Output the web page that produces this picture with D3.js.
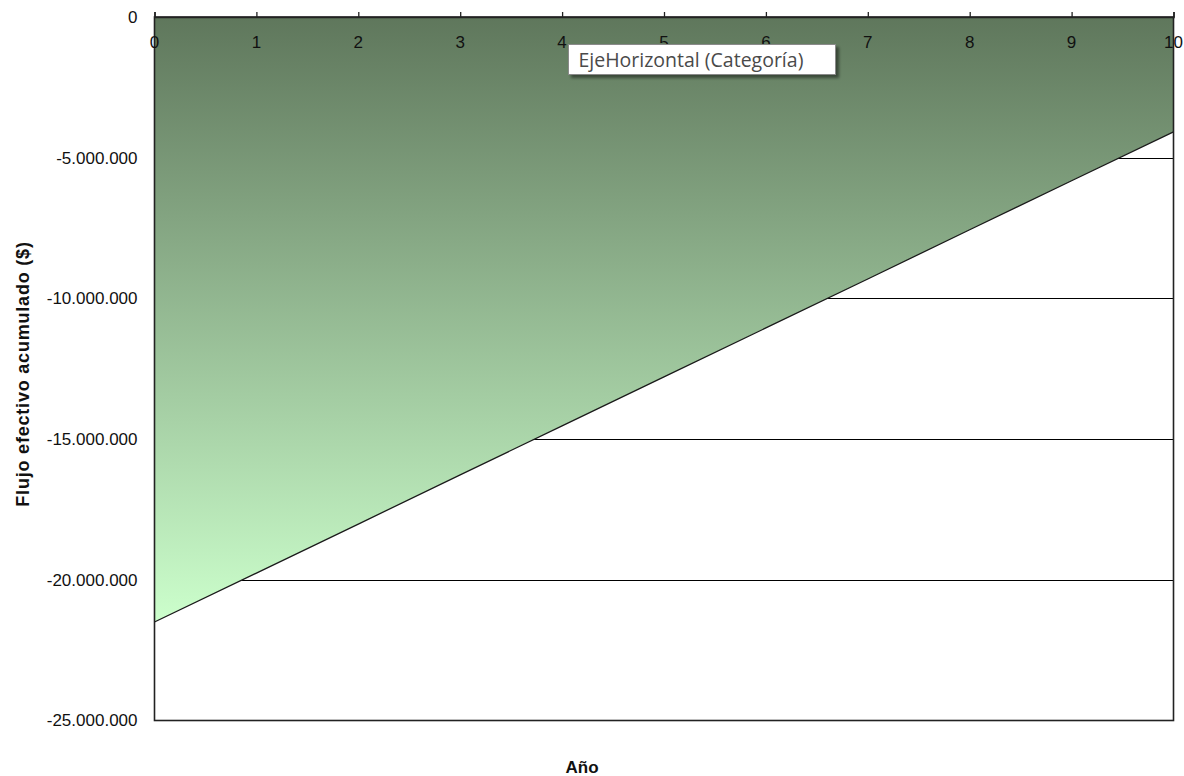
<!DOCTYPE html>
<html><head><meta charset="utf-8">
<script src="https://cdn.jsdelivr.net/npm/d3@7"></script>
<style>body{margin:0;background:#fff}svg{display:block}</style>
</head><body>
<svg id="c" width="1184" height="776"></svg>
<script>
const years = [0,1,2,3,4,5,6,7,8,9,10];
const flujoAcumulado = [-21500000,-19760000,-18020000,-16270000,-14530000,-12790000,-11050000,-9310000,-7560000,-5820000,-4080000];
const yTicks = [0,-5000000,-10000000,-15000000,-20000000,-25000000];
const yTickLabels = ["0","-5.000.000","-10.000.000","-15.000.000","-20.000.000","-25.000.000"];
const xTickLabels = ["0","1","2","3","4","5","6","7","8","9","10"];
const yTitle = "Flujo efectivo acumulado ($)";
const xTitle = "Año";
const tooltipText = "EjeHorizontal (Categoría)";

const svg = d3.select("#c");
const L=154.5, R=1173.5, T=17, B=720.5;
const x = d3.scaleLinear().domain([0,10]).range([L,R]);
const y = d3.scaleLinear().domain([0,-25000000]).range([T,B]);
const data = years.map((d,i)=>({x:d,v:flujoAcumulado[i]}));
const FONT = "Liberation Sans, Arial, sans-serif";

// gradient
const defs = svg.append("defs");
const g = defs.append("linearGradient").attr("id","gr").attr("gradientUnits","userSpaceOnUse")
  .attr("x1",0).attr("x2",0).attr("y1",y(0)).attr("y2",y(d3.min(flujoAcumulado)));
g.append("stop").attr("offset",0).attr("stop-color","#5f775c");
g.append("stop").attr("offset",1).attr("stop-color","#ccffcc");
const sh = defs.append("filter").attr("id","sh").attr("x","-10%").attr("y","-20%").attr("width","130%").attr("height","160%");
sh.append("feDropShadow").attr("dx",3).attr("dy",3).attr("stdDeviation",1.5).attr("flood-color","#000").attr("flood-opacity",0.45);

// gridlines
svg.append("g").selectAll("line").data(yTicks.filter(t=>t!==0 && t!==-25000000)).join("line")
  .attr("x1",L).attr("x2",R).attr("y1",d=>Math.round(y(d))+0.5).attr("y2",d=>Math.round(y(d))+0.5)
  .attr("stroke","#000").attr("stroke-width",1.2);

// area
const area = d3.area().x(d=>x(d.x)).y0(y(0)).y1(d=>y(d.v));
svg.append("path").datum(data).attr("d",area).attr("fill","url(#gr)");
const line = d3.line().x(d=>x(d.x)).y(d=>y(d.v));
svg.append("path").datum(data).attr("d",line).attr("fill","none").attr("stroke","#1a1a1a").attr("stroke-width",1.3);

// plot border
svg.append("rect").attr("x",L).attr("y",T).attr("width",R-L).attr("height",B-T)
  .attr("fill","none").attr("stroke","#222").attr("stroke-width",1.6);

// x axis at top
const xAxis = d3.axisTop(x).tickValues(years).tickSize(5).tickFormat(()=>"");
const xa = svg.append("g").attr("transform",`translate(0,${T})`).call(xAxis);
xa.select(".domain").attr("stroke","#222").attr("stroke-width",1.6);
xa.selectAll(".tick line").attr("stroke","#222").attr("stroke-width",1.3);
svg.append("g").selectAll("text").data(years).join("text")
  .attr("x",d=>x(d)).attr("y",48).attr("text-anchor","middle")
  .attr("font-family",FONT).attr("font-size",17).attr("fill","#111")
  .text((d,i)=>xTickLabels[i]);

// y axis labels
const yAxis = d3.axisLeft(y).tickValues(yTicks).tickSize(0).tickPadding(17).tickFormat((d,i)=>yTickLabels[i]);
const ya = svg.append("g").attr("transform",`translate(${L},0)`).call(yAxis);
ya.select(".domain").remove();
ya.selectAll("text").attr("font-family",FONT).attr("font-size",17).attr("fill","#111");

// titles
svg.append("text").attr("transform","translate(29,374) rotate(-90)").attr("text-anchor","middle")
  .attr("font-family",FONT).attr("font-size",18).attr("font-weight","bold").attr("letter-spacing",0.8).attr("fill","#111")
  .text(yTitle);
svg.append("text").attr("x",582).attr("y",773).attr("text-anchor","middle")
  .attr("font-family",FONT).attr("font-size",17).attr("font-weight","bold").attr("fill","#111")
  .text(xTitle);

// tooltip
const tt = svg.append("g").attr("transform","translate(568.5,44.5)");
tt.append("rect").attr("width",267).attr("height",30).attr("fill","#fff").attr("stroke","#8a8a8a").attr("stroke-width",1).attr("filter","url(#sh)");
tt.append("text").attr("x",10).attr("y",22).attr("font-family","Open Sans, Noto Sans, sans-serif").attr("font-size",19.5).attr("fill","#4a4a4a")
  .text(tooltipText);
</script>
</body></html>
